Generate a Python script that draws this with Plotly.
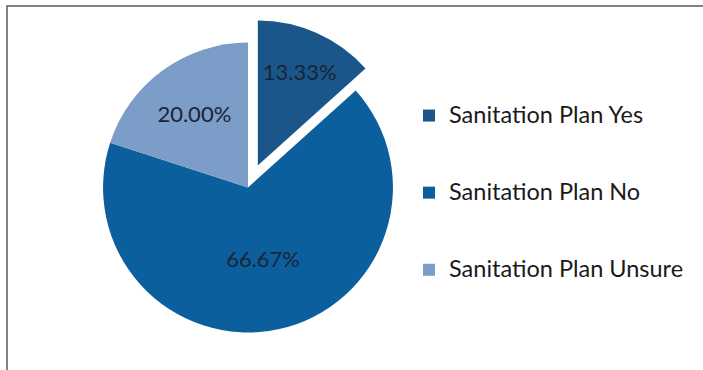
import plotly.graph_objects as go

labels = ["Sanitation Plan Yes", "Sanitation Plan No", "Sanitation Plan Unsure"]
values = [2, 10, 3]
colors = ["#1a5689", "#0b5f9c", "#7b9dc8"]
pulls = [0.166, 0, 0]

W, H = 703, 370

legend_labels = ["<br><span style='font-size:23.5px'>" + l + "</span><br>" for l in labels]

fig = go.Figure(go.Pie(
    labels=legend_labels,
    values=values,
    sort=False,
    direction="clockwise",
    rotation=0,
    pull=pulls,
    marker=dict(colors=colors, line=dict(width=0)),
    texttemplate="%{percent:.2%}",
    textposition="inside",
    insidetextorientation="horizontal",
    textfont=dict(family="Lato", size=22, color="#1b2436"),
    domain=dict(x=[79 / W, 417 / W], y=[1 - 356.5 / H, 1 - 18.5 / H]),
    hoverinfo="label+percent",
))

fig.update_layout(
    width=W, height=H,
    margin=dict(l=0, r=0, t=0, b=0),
    paper_bgcolor="white",
    plot_bgcolor="white",
    showlegend=True,
    legend=dict(
        x=409 / W, y=1 - 193 / H, xanchor="left", yanchor="middle",
        font=dict(family="Lato", size=19, color="#1a1a1a"),
        bgcolor="rgba(0,0,0,0)",
    ),
    shapes=[dict(
        type="path", xref="paper", yref="paper",
        path=f"M {7/W} 0 L {7/W} {1-6/H} L 1 {1-6/H}",
        line=dict(color="#5a5a5a", width=1.5),
    )],
)

fig.write_html("out.html", config={"displayModeBar": False},
               post_script="document.body.style.margin='0';")
